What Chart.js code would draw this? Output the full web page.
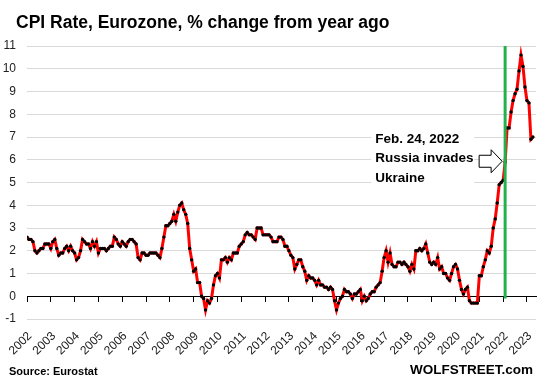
<!DOCTYPE html>
<html>
<head>
<meta charset="utf-8">
<title>CPI Rate, Eurozone</title>
<script src="https://cdn.jsdelivr.net/npm/chart.js@4.4.0/dist/chart.umd.min.js"></script>
<style>
body{margin:0;background:#fff;}
#wrap{position:relative;width:540px;height:383px;font-family:"Liberation Sans",Arial,sans-serif;color:#000;}
#wrap canvas{position:absolute;left:0;top:0;}
.txt{position:absolute;font-weight:bold;white-space:nowrap;}
#title{left:16px;top:12px;font-size:17.5px;line-height:20px;}
#source{left:9px;top:364px;font-size:11px;line-height:14px;}
#brand{right:7px;top:362px;font-size:13.5px;line-height:16px;}
</style>
</head>
<body>
<div id="wrap">
<canvas id="myChart" width="540" height="383"></canvas>
<div class="txt" id="title">CPI Rate, Eurozone, % change from year ago</div>
<div class="txt" id="source">Source: Eurostat</div>
<div class="txt" id="brand">WOLFSTREET.com</div>
</div>
<script>
// monthly HICP, % change from year ago, Jan 2002 .. Apr 2023
var startYear=2002;
var cpiRates=[
2.6,2.5,2.5,2.4,2.0,1.9,2.0,2.1,2.1,2.3,2.3,2.3,
2.1,2.4,2.5,2.1,1.8,1.9,1.9,2.1,2.2,2.0,2.2,2.0,
1.9,1.6,1.7,2.0,2.5,2.4,2.3,2.3,2.1,2.4,2.2,2.4,
1.9,2.1,2.1,2.1,2.0,2.1,2.2,2.2,2.6,2.5,2.3,2.2,
2.4,2.3,2.2,2.4,2.5,2.5,2.4,2.3,1.7,1.6,1.9,1.9,
1.8,1.8,1.9,1.9,1.9,1.9,1.8,1.7,2.1,2.6,3.1,3.1,
3.2,3.3,3.6,3.3,3.7,4.0,4.1,3.8,3.6,3.2,2.1,1.6,
1.1,1.2,0.6,0.6,0.0,-0.1,-0.6,-0.2,-0.3,-0.1,0.5,0.9,
1.0,0.8,1.6,1.6,1.7,1.5,1.7,1.6,1.9,1.9,1.9,2.2,
2.3,2.4,2.7,2.8,2.7,2.7,2.6,2.5,3.0,3.0,3.0,2.7,
2.7,2.7,2.7,2.6,2.4,2.4,2.4,2.6,2.6,2.5,2.2,2.2,
2.0,1.8,1.7,1.2,1.4,1.6,1.6,1.3,1.1,0.7,0.9,0.8,
0.8,0.7,0.5,0.7,0.5,0.5,0.4,0.4,0.3,0.4,0.3,-0.2,
-0.6,-0.3,-0.1,0.0,0.3,0.2,0.2,0.1,-0.1,0.1,0.1,0.2,
0.3,-0.2,0.0,-0.2,-0.1,0.1,0.2,0.2,0.4,0.5,0.6,1.1,
1.7,2.0,1.5,1.9,1.4,1.3,1.3,1.5,1.5,1.4,1.5,1.4,
1.3,1.1,1.4,1.2,2.0,2.0,2.1,2.0,2.1,2.3,1.9,1.5,
1.4,1.5,1.4,1.7,1.2,1.3,1.0,1.0,0.8,0.7,1.0,1.3,
1.4,1.2,0.7,0.3,0.1,0.3,0.4,-0.2,-0.3,-0.3,-0.3,-0.3,
0.9,0.9,1.3,1.6,2.0,1.9,2.2,3.0,3.4,4.1,4.9,5.0,
5.1,5.9,7.4,7.4,8.1,8.6,8.9,9.1,9.9,10.6,10.1,9.2,
8.6,8.5,6.9,7.0
];
var xRange=[2002,2023.38];
var yRange=[-1,11];
// Feb 2022 data month, Russia invades Ukraine
var invasionMonth=2022+1/12;
var invasionSpan=[-0.1,11];
var noteLevel=6;
var noteLines=["Feb. 24, 2022","Russia invades","Ukraine"];

var cpiPoints=cpiRates.map(function(v,i){return {x:startYear+i/12,y:v};});
var invasionPoints=invasionSpan.map(function(v){return {x:invasionMonth,y:v};});

var notePlugin={
  id:"note",
  beforeDatasetsDraw:function(chart){
    var ctx=chart.ctx;
    var tipX=chart.scales.x.getPixelForValue(invasionMonth)-3;
    var tipY=chart.scales.y.getPixelForValue(noteLevel)+1.5;
    var boxR=tipX-28, boxL=boxR-103;
    ctx.save();
    ctx.fillStyle="#fff";
    ctx.fillRect(boxL,tipY-34,103,66);
    ctx.font='bold 13.5px "Liberation Sans", Arial, sans-serif';
    ctx.fillStyle="#000";
    ctx.textBaseline="middle";
    noteLines.forEach(function(t,i){ctx.fillText(t,boxL+4,tipY-22+i*19.5);});
    ctx.beginPath();
    ctx.moveTo(tipX,tipY);
    ctx.lineTo(tipX-11,tipY-11.5);
    ctx.lineTo(tipX-11,tipY-6);
    ctx.lineTo(tipX-23,tipY-6);
    ctx.lineTo(tipX-23,tipY+6);
    ctx.lineTo(tipX-11,tipY+6);
    ctx.lineTo(tipX-11,tipY+11.5);
    ctx.closePath();
    ctx.fillStyle="#fff";
    ctx.fill();
    ctx.strokeStyle="#000";
    ctx.lineWidth=1;
    ctx.stroke();
    ctx.restore();
  }
};

var tickFont={family:'"Liberation Sans", Arial, sans-serif',size:12};

new Chart("myChart",{
  type:"line",
  data:{
    datasets:[{
      data:invasionPoints,
      borderColor:"#22b14c",
      borderWidth:3,
      pointRadius:0
    },{
      data:cpiPoints,
      borderColor:"#ff0000",
      borderWidth:3,
      tension:0,
      pointRadius:1.7,
      pointBackgroundColor:"#000",
      pointBorderWidth:0
    }]
  },
  options:{
    responsive:false,
    animation:false,
    layout:{padding:{top:46,right:3,bottom:0,left:0}},
    plugins:{legend:{display:false},tooltip:{enabled:false},title:{display:false}},
    scales:{
      x:{
        type:"linear",
        position:{y:0},
        min:xRange[0],max:xRange[1],
        ticks:{display:false,stepSize:1,includeBounds:false,maxTicksLimit:30},
        grid:{drawOnChartArea:false,drawTicks:true,tickLength:5,color:"#000"},
        border:{display:true,color:"#000",width:1}
      },
      x2:{
        type:"linear",
        axis:"x",
        position:"bottom",
        min:xRange[0],max:xRange[1],
        ticks:{stepSize:1,includeBounds:false,maxTicksLimit:30,autoSkip:false,minRotation:45,maxRotation:45,padding:10,labelOffset:3,font:tickFont,color:"#222",
          callback:function(v){return String(v);}},
        grid:{display:false,drawTicks:false},
        border:{display:false},
        afterFit:function(s){s.height=64;s.paddingLeft=0;s.paddingRight=0;}
      },
      y:{
        min:yRange[0],max:yRange[1],
        ticks:{stepSize:1,padding:11,font:tickFont,color:"#222"},
        grid:{color:"#d9d9d9",drawTicks:false},
        border:{display:false},
        afterFit:function(s){s.width=27;}
      }
    }
  },
  plugins:[notePlugin]
});
</script>
</body>
</html>
